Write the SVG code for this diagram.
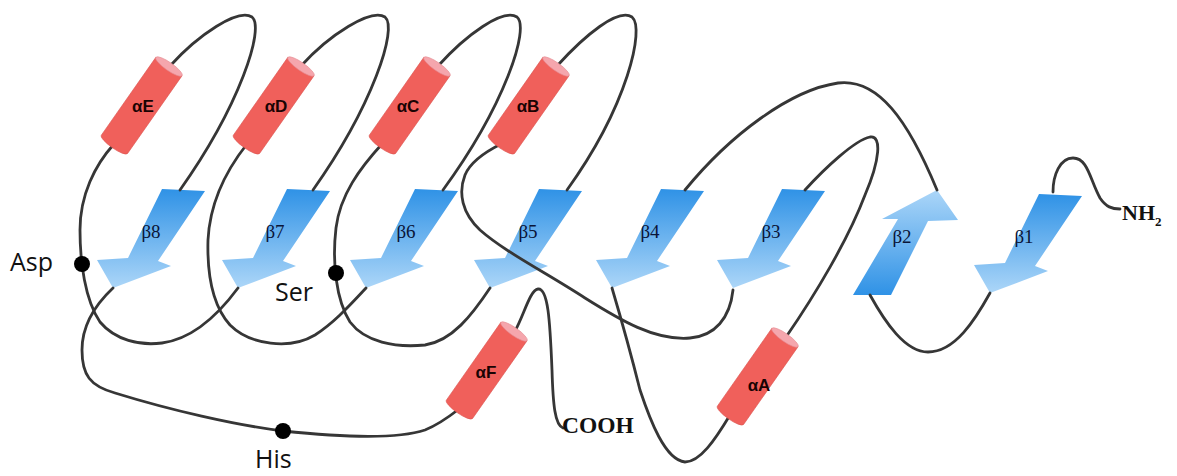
<svg xmlns="http://www.w3.org/2000/svg" xmlns:xlink="http://www.w3.org/1999/xlink" width="1177" height="476" viewBox="0 0 1177 476">
  <defs>
    <linearGradient id="sheetDown" x1="0" y1="0" x2="0" y2="1">
      <stop offset="0" stop-color="#2f92e6"/>
      <stop offset="1" stop-color="#acd6f8"/>
    </linearGradient>
    <linearGradient id="sheetUp" x1="0" y1="1" x2="0" y2="0">
      <stop offset="0" stop-color="#2f92e6"/>
      <stop offset="1" stop-color="#acd6f8"/>
    </linearGradient>
    <!-- beta strand pointing down-left, origin at arrow tip -->
    <path id="strandDown" d="M0,0 L-16,-28 L15,-30 L49,-99 L92,-97 L45,-27 L58,-22 Z"/>
    <!-- alpha helix cylinder, origin at centre, axis vertical -->
    <g id="cyl">
      <path d="M-16,-47 L-16,48 A16,4 0 0 0 16,48 L16,-47 Z" fill="#f0605b" stroke="#dc5550" stroke-width="0.6"/>
      <ellipse cx="0" cy="-47" rx="16" ry="4" fill="#f5a6ad" stroke="#e58a90" stroke-width="0.6"/>
    </g>
    <style>
      .sheet { fill: url(#sheetDown); }
      .sheet-up { fill: url(#sheetUp); }
      .loop { fill: none; stroke: #363636; stroke-width: 2.8; stroke-linecap: round; stroke-linejoin: round; }
      .slabel { font-family: "Liberation Serif", "Times New Roman", serif; font-size: 19px; fill: #0a1538; text-anchor: middle; }
      .hlabel { font-family: "Liberation Sans", Arial, sans-serif; font-size: 17px; font-weight: bold; fill: #1a0303; text-anchor: middle; }
      .term { font-family: "Liberation Serif", "Times New Roman", serif; font-weight: bold; fill: #111; }
      .res { font-family: "Open Sans", "Liberation Sans", sans-serif; font-size: 25px; fill: #111; }
      .dot { fill: #000; }
    </style>
  </defs>

  <rect width="1177" height="476" fill="#ffffff"/>

  <!-- beta strands -->
  <g id="beta8"><use xlink:href="#strandDown" href="#strandDown" class="sheet" transform="translate(113,288)"/><text class="slabel" x="151" y="238">β8</text></g>
  <g id="beta7"><use xlink:href="#strandDown" href="#strandDown" class="sheet" transform="translate(238,288)"/><text class="slabel" x="275" y="238">β7</text></g>
  <g id="beta6"><use xlink:href="#strandDown" href="#strandDown" class="sheet" transform="translate(366,288)"/><text class="slabel" x="406" y="238">β6</text></g>
  <g id="beta5"><use xlink:href="#strandDown" href="#strandDown" class="sheet" transform="translate(490,288)"/><text class="slabel" x="528" y="238">β5</text></g>
  <g id="beta4"><use xlink:href="#strandDown" href="#strandDown" class="sheet" transform="translate(612,288)"/><text class="slabel" x="650" y="238">β4</text></g>
  <g id="beta3"><use xlink:href="#strandDown" href="#strandDown" class="sheet" transform="translate(733,288)"/><text class="slabel" x="771" y="238">β3</text></g>
  <g id="beta2"><path class="sheet-up" d="M853,295 L891,295 L928,221 L958,220 L937,190 L882,219 L898,219 Z"/><text class="slabel" x="902" y="243">β2</text></g>
  <g id="beta1"><use xlink:href="#strandDown" href="#strandDown" class="sheet" transform="translate(990,293)"/><text class="slabel" x="1024" y="243">β1</text></g>

  <!-- connecting loops -->
  <g id="loops">
    <path class="loop" d="M1053,192 C1053,175 1060,158 1073,158 C1088,158 1090,180 1100,198 C1106,207 1112,209 1120,209"/>
    <path class="loop" d="M990,293 C975,320 955,352 928,352 C905,352 885,322 870,295"/>
    <path class="loop" d="M685,190 C730,135 790,90 838,83 C878,78 908,120 937,190"/>
    <path class="loop" d="M805,190 C825,168 855,140 870,137 C882,135 880,160 865,195 C848,240 815,295 786,337"/>
    <path class="loop" d="M730,415 C715,440 700,462 685,462 C665,460 650,420 640,390 C630,350 620,315 612,288"/>
    <path class="loop" d="M733,290 C730,318 715,336 690,338 C655,341 620,320 585,298 C545,272 505,252 480,230 C462,213 458,193 465,175 C470,163 485,152 501,144"/>
    <path class="loop" d="M557,66 C585,35 618,8 632,17 C645,28 628,105 567,190"/>
    <path class="loop" d="M438,66 C466,35 503,8 517,17 C530,28 505,105 443,190"/>
    <path class="loop" d="M301,66 C329,35 371,8 385,17 C398,28 373,105 313,190"/>
    <path class="loop" d="M170,66 C198,35 238,8 252,17 C265,28 240,105 180,190"/>
    <path class="loop" d="M114,144 C95,165 80,195 80,230 C80,262 85,300 100,322 C115,340 140,346 162,343 C192,339 218,315 238,288"/>
    <path class="loop" d="M247,144 C228,168 210,200 208,240 C207,275 212,305 230,325 C250,345 290,350 315,335 C335,322 350,305 366,288"/>
    <path class="loop" d="M382,144 C360,168 340,195 336,228 C332,262 336,300 350,322 C365,342 395,348 425,345 C452,341 472,315 490,288"/>
    <path class="loop" d="M113,288 C96,304 82,325 82,350 C82,375 90,386 115,393 C170,410 235,425 283,431 C330,436 395,440 425,430 C440,424 450,416 459,409"/>
    <path class="loop" d="M515,331 C524,315 530,290 538,289 C548,288 550,320 552,370 C553,405 555,425 563,428"/>
  </g>

  <!-- alpha helices -->
  <g id="alphaE"><use xlink:href="#cyl" href="#cyl" transform="translate(142,105) rotate(35)"/><text class="hlabel" x="143" y="112">αE</text></g>
  <g id="alphaD"><use xlink:href="#cyl" href="#cyl" transform="translate(274,105) rotate(35)"/><text class="hlabel" x="276" y="112">αD</text></g>
  <g id="alphaC"><use xlink:href="#cyl" href="#cyl" transform="translate(410,105) rotate(35)"/><text class="hlabel" x="408" y="112">αC</text></g>
  <g id="alphaB"><use xlink:href="#cyl" href="#cyl" transform="translate(529,105) rotate(35)"/><text class="hlabel" x="528" y="112">αB</text></g>
  <g id="alphaF"><use xlink:href="#cyl" href="#cyl" transform="translate(487,370) rotate(35)"/><text class="hlabel" x="486" y="378">αF</text></g>
  <g id="alphaA"><use xlink:href="#cyl" href="#cyl" transform="translate(758,376) rotate(35)"/><text class="hlabel" x="759" y="391">αA</text></g>

  <!-- catalytic residues -->
  <g id="asp"><circle class="dot" cx="82" cy="264" r="8"/><text class="res" x="10" y="271">Asp</text></g>
  <g id="ser"><circle class="dot" cx="336" cy="273" r="8"/><text class="res" x="275" y="301">Ser</text></g>
  <g id="his"><circle class="dot" cx="283" cy="431" r="8"/><text class="res" x="255" y="468">His</text></g>

  <!-- termini -->
  <g id="nterm"><text class="term" x="1122" y="220" font-size="22">NH<tspan font-size="13" dy="6">2</tspan></text></g>
  <g id="cterm"><text class="term" x="562" y="433" font-size="23.5">COOH</text></g>
</svg>
